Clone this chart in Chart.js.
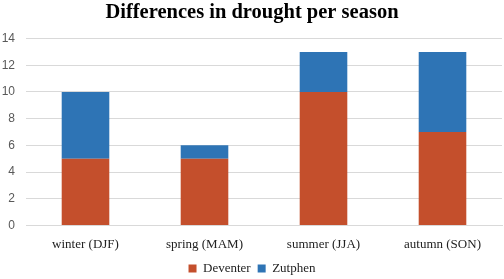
<!DOCTYPE html>
<html>
<head>
<meta charset="utf-8">
<script src="https://cdn.jsdelivr.net/npm/chart.js@4"></script>
<style>
    html, body {
        margin: 0;
        padding: 0;
        background: #fff;
    }
    #wrap {
        width: 504px;
        height: 279px;
    }
</style>
</head>
<body>
<div id="wrap"><canvas id="chart"></canvas></div>
<script>
const seasons = ['winter (DJF)', 'spring (MAM)', 'summer (JJA)', 'autumn (SON)']
const deventer = [5, 5, 10, 7]
const zutphen = [5, 1, 3, 6]
const yTicks = [0, 2, 4, 6, 8, 10, 12, 14]

var ctx = document.getElementById('chart').getContext('2d')
var myChart = new Chart(ctx, {
    type: 'bar',
    data: {
        labels: seasons,
        datasets: [
            {
                label: 'Deventer',
                data: deventer,
                backgroundColor: '#c44f2c',
                borderWidth: 0,
                barPercentage: 0.8,
                categoryPercentage: 0.5,
            },
            {
                label: 'Zutphen',
                data: zutphen,
                backgroundColor: '#2e74b5',
                borderWidth: 0,
                barPercentage: 0.8,
                categoryPercentage: 0.5,
            },
        ],
    },
    options: {
        responsive: true,
        maintainAspectRatio: false,
        animation: false,
        // negative bottom padding pulls the legend closer to the edge
        layout: { padding: { left: 2, right: 2, top: 0, bottom: -6 } },
        plugins: {
            title: {
                display: true,
                text: 'Differences in drought per season',
                color: '#000',
                font: { family: 'Liberation Serif', size: 20.5, weight: 'bold' },
                padding: { top: 0, bottom: 14 },
            },
            legend: {
                position: 'bottom',
                labels: {
                    boxWidth: 8,
                    boxHeight: 8,
                    color: '#222',
                    font: { family: 'Liberation Serif', size: 13 },
                    padding: 7,
                },
            },
            tooltip: { enabled: false },
        },
        scales: {
            x: {
                stacked: true,
                grid: { display: false },
                border: { color: '#d9d9d9' },
                ticks: {
                    color: '#222',
                    font: { family: 'Liberation Serif', size: 13 },
                    padding: 3,
                },
            },
            y: {
                stacked: true,
                min: 0,
                max: 14,
                afterBuildTicks: (axis) => {
                    axis.ticks = yTicks.map((v) => ({ value: v }))
                },
                afterFit: (axis) => {
                    axis.width = 24
                },
                grid: { color: '#d9d9d9', drawTicks: false },
                border: { display: false },
                ticks: {
                    color: '#595959',
                    font: { family: 'Liberation Sans', size: 12 },
                    padding: 11,
                },
            },
        },
    },
})
</script>
</body>
</html>
